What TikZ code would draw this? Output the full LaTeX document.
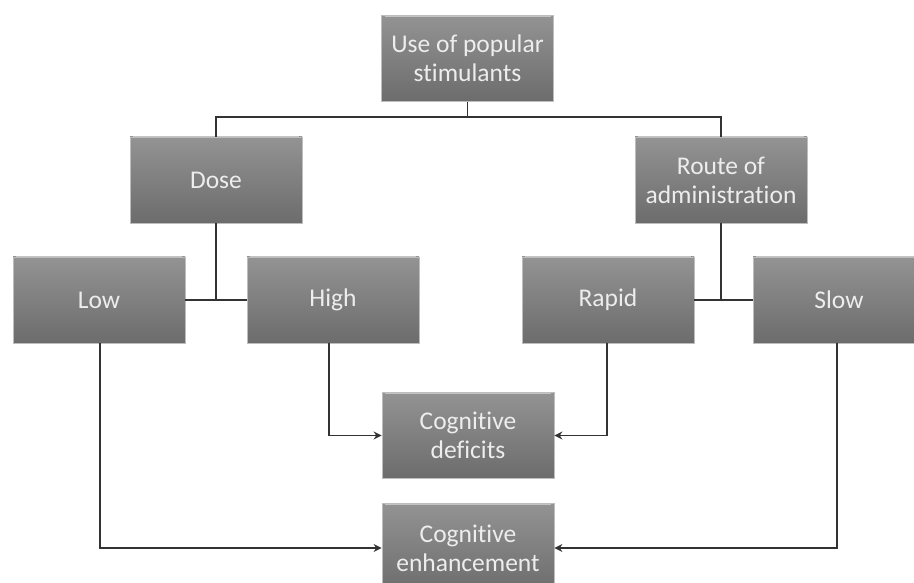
\documentclass[tikz,border=0pt]{standalone}
\usepackage{fontspec}
\setmainfont[Ligatures=NoCommon]{Carlito}
\usetikzlibrary{arrows.meta}
\definecolor{boxtop}{HTML}{939393}
\definecolor{boxbot}{HTML}{6C6C6C}
\definecolor{boxedge}{HTML}{BDBDBD}
\definecolor{boxhl}{HTML}{C4C4C4}
\definecolor{linecol}{HTML}{333333}
\definecolor{txt}{HTML}{EDEDED}
\tikzset{
  gbox/.style={rectangle, top color=boxtop, bottom color=boxbot, draw=boxedge, line width=0.8pt,
    text=txt, font=\fontsize{25.5}{29}\selectfont, align=center, inner sep=0pt,
    minimum width=172pt, minimum height=86pt,
    path picture={\draw[boxhl, line width=3pt]
      ([xshift=3pt]path picture bounding box.north west) -- ([xshift=-3pt]path picture bounding box.north east);}},
  conn/.style={draw=linecol, line width=1.6pt},
  arr/.style={conn, -{Stealth[length=8pt,width=8pt]}}
}
\begin{document}
\begin{tikzpicture}[x=1pt,y=-1pt]
\useasboundingbox (0,0) rectangle (914,583);
\node[gbox] (top) at (467.5,58.5) {Use of popular\\stimulants};
\node[gbox] (dose) at (216,180) {Dose};
\node[gbox] (route) at (721,180) {Route of\\administration};
\node[gbox] (low) at (99,300) {Low};
\node[gbox] (high) at (333,300) {High};
\node[gbox] (rapid) at (608,300) {Rapid};
\node[gbox] (slow) at (839,300) {Slow};
\node[gbox] (def) at (468,435.5) {Cognitive\\deficits};
\node[gbox, minimum height=90pt] (enh) at (468,548) {Cognitive\\enhancement};
\coordinate (j1) at (467.5,117);
\draw[conn] (top.south) -- (j1);
\draw[conn] (dose.north) |- (j1) -| (route.north);
\coordinate (j2) at (216,300);
\coordinate (j3) at (722,300);
\draw[conn] (dose.south) -- (j2);
\draw[conn] (low.east |- j2) -- (high.west |- j2);
\draw[conn] (route.south) -- (route.south |- j3);
\draw[conn] (rapid.east |- j3) -- (slow.west |- j3);
\draw[arr] (329,343) |- (def.west);
\draw[arr] (607,343) |- (def.east);
\draw[arr] (100,343) |- (enh.west);
\draw[arr] (837,343) |- (enh.east);
\end{tikzpicture}
\end{document}
